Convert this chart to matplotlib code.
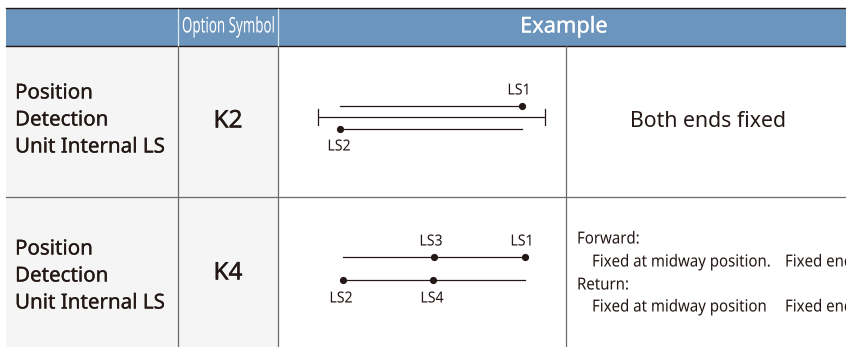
"""Option table: position detection unit internal LS, drawn in pixel coordinates."""

import matplotlib
matplotlib.use("Agg")  # headless
import matplotlib.pyplot as plt
from matplotlib.patheffects import AbstractPathEffect, withStroke
from matplotlib.transforms import Affine2D

# ---- table text ----
row_labels = ["Position", "Detection", "Unit Internal LS"]
symbols = ["K2", "K4"]
header_symbol = "Option Symbol"
header_example = "Example"
k2_note = "Both ends fixed"
k4_notes = ["Forward:", "Fixed at midway position.", "Return:", "Fixed at midway position"]
k4_fixed_end = "Fixed end"

# ---- switch diagrams: y, x start, x end, dot positions ----
k2_y = [105.5, 128.5]
k2_start = [340, 340]
k2_end = [521.5, 522]
k2_dots = [[521.5], [340]]
k2_stroke_y = 117
k2_stroke_x = [317.5, 544.5]

k4_y = [257, 280]
k4_start = [343, 343]
k4_end = [525, 524.5]
k4_dots = [[434, 525], [343, 433]]

# label, x, y
ls_labels = ["LS1", "LS2", "LS3", "LS1", "LS2", "LS4"]
ls_x = [519, 339, 431, 522, 341, 432]
ls_y = [91, 147, 242, 242, 299, 299]

BLUE = "#6b95bc"
GREY = "#f5f5f5"
DARK = "#231815"
RULE = "#6f6a68"
FONT = "Noto Sans"


class SquashX(AbstractPathEffect):
    """Condense text horizontally about x = cx (display px), there is no condensed font here."""

    def __init__(self, cx, factor):
        super().__init__()
        self.squash = Affine2D().translate(-cx, 0).scale(factor, 1).translate(cx, 0)

    def draw_path(self, renderer, gc, tpath, affine, rgbFace=None):
        renderer.draw_path(gc, tpath, affine + self.squash, rgbFace)


fig = plt.figure(figsize=(8.46, 3.47), dpi=100)
ax = fig.add_axes([0, 0, 1, 1])
ax.set_xlim(0, 846)
ax.set_ylim(347, 0)
ax.axis("off")

# backgrounds
ax.fill_between([6, 846], 9, 45.5, color=BLUE, lw=0)
ax.fill_between([6, 278], 46, 347, color=GREY, lw=0)

# rules
ax.plot([6, 846], [8, 8], color=DARK, lw=1.0)
ax.plot([6, 846], [46, 46], color=DARK, lw=1.0)
ax.plot([6, 846], [197, 197], color=RULE, lw=0.9)
for x in [178, 278, 566]:
    ax.plot([x, x], [46, 347], color=RULE, lw=0.9)
for x in [178, 278]:
    ax.plot([x, x], [9, 45], color="#dfe8f1", lw=0.9)

# header
ax.text(228.5, 27, header_symbol, color="white", fontsize=15.5, ha="center", va="center",
        family=FONT, path_effects=[SquashX(228.5, 0.62)])
ax.text(564, 27, header_example, color="white", fontsize=15.7, ha="center", va="center",
        family=FONT, path_effects=[withStroke(linewidth=0.15, foreground="white")])

# left columns
for y0, symbol, y_sym in zip([93.5, 249.5], symbols, [121.5, 273.5]):
    for i, label in enumerate(row_labels):
        ax.text(15, y0 + 27 * i, label, color=DARK, fontsize=14.8, ha="left", va="center",
                family=FONT, path_effects=[withStroke(linewidth=0.2, foreground=DARK)])
    ax.text(228, y_sym, symbol, color=DARK, fontsize=17.5, ha="center", va="center",
            family=FONT, path_effects=[withStroke(linewidth=0.3, foreground=DARK)])

# diagrams
for ys, starts, ends, dots in [(k2_y, k2_start, k2_end, k2_dots), (k4_y, k4_start, k4_end, k4_dots)]:
    for y, x0, x1, xs in zip(ys, starts, ends, dots):
        ax.plot([x0, x1], [y, y], color=DARK, lw=0.9)
        ax.plot(xs, [y] * len(xs), "o", color=DARK, ms=5.2, mew=0)
ax.plot(k2_stroke_x, [k2_stroke_y, k2_stroke_y], color=DARK, lw=0.9)
for x in k2_stroke_x:
    ax.plot([x, x], [109, 125], color=DARK, lw=0.9)
for label, x, y in zip(ls_labels, ls_x, ls_y):
    ax.text(x, y, label, color=DARK, fontsize=11, ha="center", va="center", family=FONT,
            path_effects=[SquashX(x, 0.92)])

# notes
ax.text(708, 121, k2_note, color=DARK, fontsize=15.3, ha="center", va="center", family=FONT)
for text, x, y in zip(k4_notes, [577, 592, 577, 592], [239.5, 262.5, 285.5, 307.5]):
    ax.text(x, y, text, color=DARK, fontsize=12, ha="left", va="center", family=FONT,
            path_effects=[SquashX(x, 0.9)])
for y in [262.5, 307.5]:
    ax.text(785, y, k4_fixed_end, color=DARK, fontsize=12, ha="left", va="center", family=FONT,
            path_effects=[SquashX(785, 0.9)])

fig.savefig("out.png", dpi=100)
plt.close(fig)
